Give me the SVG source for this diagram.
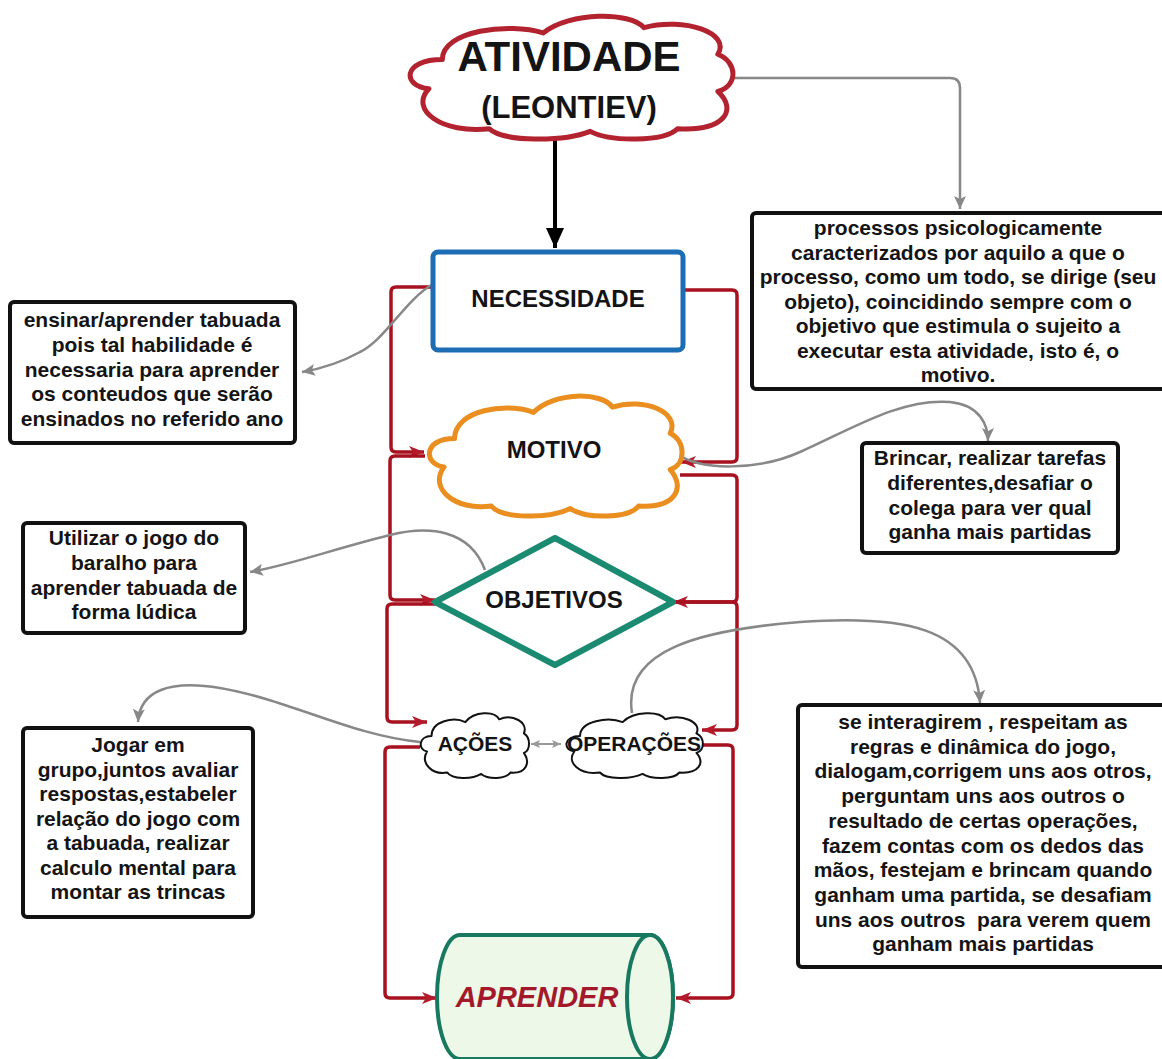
<svg xmlns="http://www.w3.org/2000/svg" width="1162" height="1059" viewBox="0 0 1162 1059">
<style>
.t{font-family:"Liberation Sans",Arial,sans-serif;font-weight:bold;font-size:21px;fill:#141414;text-anchor:middle}
.lbl{font-family:"Liberation Sans",Arial,sans-serif;font-weight:bold;fill:#141414;text-anchor:middle}
.box{fill:#fff;stroke:#111;stroke-width:4}
.red{fill:none;stroke:#a8111f;stroke-width:3.5;stroke-linejoin:round;marker-end:url(#ar)}
.gray{fill:none;stroke:#888;stroke-width:2.5;marker-end:url(#ag)}
.cloud{fill:#fff;stroke-linejoin:round}
</style>
<defs>
<marker id="ar" markerUnits="userSpaceOnUse" markerWidth="16" markerHeight="12" refX="15" refY="6" orient="auto"><path d="M0,0 L15,6 L0,12 L4,6 Z" fill="#b51a2a"/></marker>
<marker id="ag" markerUnits="userSpaceOnUse" markerWidth="14" markerHeight="14" refX="13" refY="7" orient="auto-start-reverse"><path d="M0,1 L13,7 L0,13 L3,7 Z" fill="#888"/></marker>
<marker id="agS" markerUnits="userSpaceOnUse" markerWidth="10" markerHeight="10" refX="9" refY="5" orient="auto-start-reverse"><path d="M0,1 L9,5 L0,9 L2,5 Z" fill="#999"/></marker>
<marker id="ab" markerUnits="userSpaceOnUse" markerWidth="22" markerHeight="20" refX="20" refY="10" orient="auto"><path d="M0,1 L20,10 L0,19 Z" fill="#000"/></marker>
</defs>
<g id="connectors">
<path d="M555 138 V248" fill="none" stroke="#000" stroke-width="4" marker-end="url(#ab)"/>
<path class="gray" d="M730 78 H950 Q960 78 960 88 V209"/>
<path class="red" d="M433 287 H396 Q391 287 391 292 V447 Q391 452 396 452 H424"/>
<path class="red" d="M683 290 H732 Q737 290 737 295 V457 Q737 462 732 462 H681"/>
<path class="red" d="M425 456 H395 Q390 456 390 461 V595 Q390 600 395 600 H435"/>
<path class="red" d="M680 475 H732 Q737 475 737 480 V597 Q737 602 732 602 H673"/>
<path class="red" d="M673 602 H732 Q737 602 737 607 V725 Q737 730 732 730 H702"/>
<path class="red" d="M436 604 H392 Q387 604 387 609 V717 Q387 722 392 722 H427"/>
<path class="red" d="M420 747 H390 Q385 747 385 752 V993 Q385 998 390 998 H437"/>
<path class="red" d="M700 745 H728 Q733 745 733 750 V993 Q733 998 728 998 H676"/>
<path class="gray" d="M433 284 C405 300,385 340,360 352 C340 363,320 369,302 372"/>
<path class="gray" d="M676 453 C700 472,760 470,800 452 C850 430,900 398,950 402 C980 405,988 425,988 441"/>
<path class="gray" d="M485 570 C470 530,430 525,390 535 C330 550,290 565,250 572"/>
<path class="gray" d="M420 742 C350 735,290 700,220 688 C170 680,140 690,138 722"/>
<path class="gray" d="M632 713 C622 650,700 630,800 622 C900 615,975 625,980 703"/>
<path d="M531 744 H561" fill="none" stroke="#999" stroke-width="2" marker-start="url(#agS)" marker-end="url(#agS)"/>
</g>
<g id="atividade">
<path class="cloud" vector-effect="non-scaling-stroke" transform="translate(402,9) scale(3.36,1.33)" stroke="#b3222f" stroke-width="5" d="M8 60 C0 58,0 38,12 38 C12 16,32 10,42 18 C50 2,68 2,72 14 C84 6,98 18,94 34 C100 40,100 58,94 62 C100 76,96 92,82 90 C78 100,62 100,56 92 C48 100,30 100,26 90 C12 94,2 76,8 60 Z"/>
<text class="lbl" x="569" y="71" font-size="42">ATIVIDADE</text>
<text class="lbl" x="569" y="118" font-size="31">(LEONTIEV)</text>
</g>
<g id="necessidade">
<rect x="433" y="252" width="250" height="98" rx="5" fill="#fff" stroke="#1d6db4" stroke-width="5"/>
<text class="lbl" x="558" y="307" font-size="24">NECESSIDADE</text>
</g>
<g id="motivo">
<path class="cloud" vector-effect="non-scaling-stroke" transform="translate(423,389) scale(2.63,1.3)" stroke="#e98e1f" stroke-width="5" d="M8 60 C0 58,0 38,12 38 C12 16,32 10,42 18 C50 2,68 2,72 14 C84 6,98 18,94 34 C100 40,100 58,94 62 C100 76,96 92,82 90 C78 100,62 100,56 92 C48 100,30 100,26 90 C12 94,2 76,8 60 Z"/>
<text class="lbl" x="554" y="458" font-size="24">MOTIVO</text>
</g>
<g id="objetivos">
<path d="M435 602 L555 538 L673 602 L555 665 Z" fill="#fff" stroke="#1a8a70" stroke-width="6" stroke-linejoin="round"/>
<text class="lbl" x="554" y="608" font-size="24">OBJETIVOS</text>
</g>
<g id="acoes">
<path class="cloud" vector-effect="non-scaling-stroke" transform="translate(418,709.5) scale(1.127,0.7)" stroke="#111" stroke-width="2" d="M8 60 C0 58,0 38,12 38 C12 16,32 10,42 18 C50 2,68 2,72 14 C84 6,98 18,94 34 C100 40,100 58,94 62 C100 76,96 92,82 90 C78 100,62 100,56 92 C48 100,30 100,26 90 C12 94,2 76,8 60 Z"/>
<text class="lbl" x="475" y="751" font-size="21">AÇÕES</text>
</g>
<g id="operacoes">
<path class="cloud" vector-effect="non-scaling-stroke" transform="translate(563,709.5) scale(1.42,0.7)" stroke="#111" stroke-width="2" d="M8 60 C0 58,0 38,12 38 C12 16,32 10,42 18 C50 2,68 2,72 14 C84 6,98 18,94 34 C100 40,100 58,94 62 C100 76,96 92,82 90 C78 100,62 100,56 92 C48 100,30 100,26 90 C12 94,2 76,8 60 Z"/>
<text class="lbl" x="634" y="751" font-size="21">OPERAÇÕES</text>
</g>
<g id="aprender">
<path d="M460 935 H650 A23 62 0 0 1 650 1059 H460 A23 62 0 0 1 460 935 Z" fill="#eef8e9" stroke="#17795f" stroke-width="4"/>
<ellipse cx="650" cy="997" rx="23" ry="62" fill="#eef8e9" stroke="#17795f" stroke-width="4"/>
<text x="537" y="1007" font-family="'Liberation Sans',Arial,sans-serif" font-weight="bold" font-style="italic" font-size="29" fill="#a3182a" text-anchor="middle">APRENDER</text>
</g>
<g id="box-definicao">
<rect class="box" x="752" y="213" width="425" height="176" rx="4"/>
<text class="t"><tspan x="958" y="235">processos psicologicamente</tspan><tspan x="958" y="259.5">caracterizados por aquilo a que o</tspan><tspan x="958" y="284">processo, como um todo, se dirige (seu</tspan><tspan x="958" y="308.5">objeto), coincidindo sempre com o</tspan><tspan x="958" y="333">objetivo que estimula o sujeito a</tspan><tspan x="958" y="357.5">executar esta atividade, isto é, o</tspan><tspan x="958" y="382">motivo.</tspan></text>
</g>
<g id="box-motivo">
<rect class="box" x="862" y="443" width="256" height="110" rx="4"/>
<text class="t"><tspan x="990" y="465">Brincar, realizar tarefas</tspan><tspan x="990" y="490">diferentes,desafiar o</tspan><tspan x="990" y="514.5">colega para ver qual</tspan><tspan x="990" y="539">ganha mais partidas</tspan></text>
</g>
<g id="box-necessidade">
<rect class="box" x="10" y="302" width="285" height="141" rx="4"/>
<text class="t"><tspan x="152" y="327">ensinar/aprender tabuada</tspan><tspan x="152" y="352">pois tal habilidade é</tspan><tspan x="152" y="376.5">necessaria para aprender</tspan><tspan x="152" y="401">os conteudos que serão</tspan><tspan x="152" y="426">ensinados no referido ano</tspan></text>
</g>
<g id="box-objetivos">
<rect class="box" x="23" y="523" width="222" height="110" rx="4"/>
<text class="t"><tspan x="134" y="545">Utilizar o jogo do</tspan><tspan x="134" y="570">baralho para</tspan><tspan x="134" y="594.5">aprender tabuada de</tspan><tspan x="134" y="619">forma lúdica</tspan></text>
</g>
<g id="box-acoes">
<rect class="box" x="23" y="728" width="230" height="189" rx="4"/>
<text class="t"><tspan x="138" y="752">Jogar em</tspan><tspan x="138" y="776.5">grupo,juntos avaliar</tspan><tspan x="138" y="801">respostas,estabeler</tspan><tspan x="138" y="825.5">relação do jogo com</tspan><tspan x="138" y="850">a tabuada, realizar</tspan><tspan x="138" y="874.5">calculo mental para</tspan><tspan x="138" y="899">montar as trincas</tspan></text>
</g>
<g id="box-operacoes">
<rect class="box" x="798" y="705" width="380" height="262" rx="4"/>
<text class="t"><tspan x="983" y="729">se interagirem , respeitam as</tspan><tspan x="983" y="753.7">regras e dinâmica do jogo,</tspan><tspan x="983" y="778.4">dialogam,corrigem uns aos otros,</tspan><tspan x="983" y="803.1">perguntam uns aos outros o</tspan><tspan x="983" y="827.8">resultado de certas operações,</tspan><tspan x="983" y="852.5">fazem contas com os dedos das</tspan><tspan x="983" y="877.2">mãos, festejam e brincam quando</tspan><tspan x="983" y="901.9">ganham uma partida, se desafiam</tspan><tspan x="983" y="926.6">uns aos outros &#160;para verem quem</tspan><tspan x="983" y="951.3">ganham mais partidas</tspan></text>
</g>
</svg>
